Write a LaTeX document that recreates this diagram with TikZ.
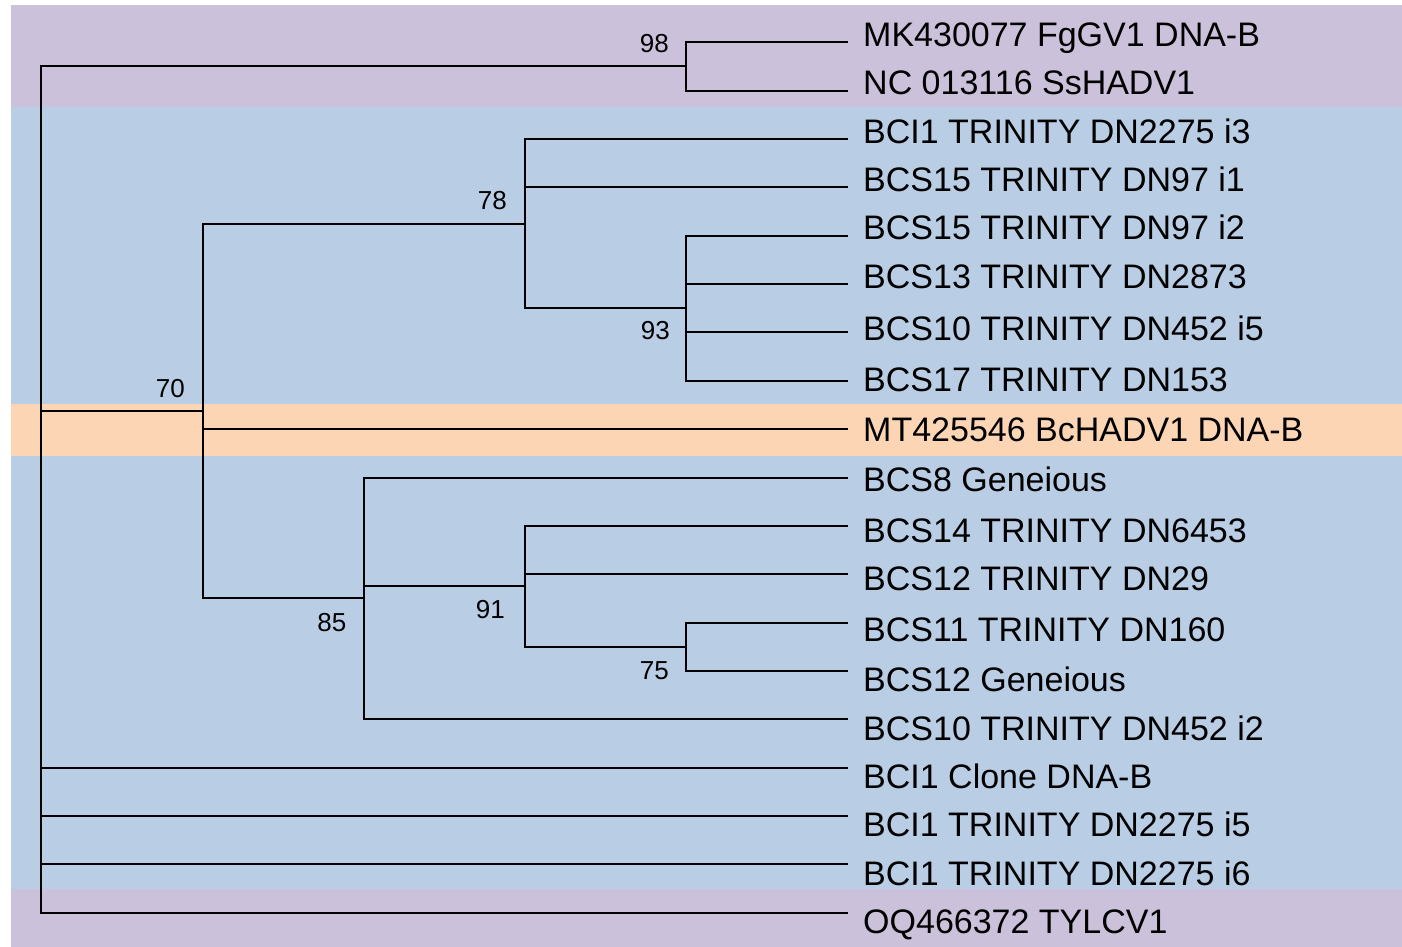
\documentclass[tikz,border=0pt]{standalone}
\usepackage{fontspec}
\setmainfont{Liberation Sans}
\definecolor{bandpurple}{RGB}{203,193,218}
\definecolor{bandblue}{RGB}{185,205,228}
\definecolor{bandorange}{RGB}{252,213,181}
\begin{document}
\begin{tikzpicture}[x=1pt,y=-1pt,
  branch/.style={line width=2pt, line cap=rect, line join=miter},
  leaflabel/.style={anchor=base west, inner sep=0pt, font=\fontsize{34}{40}\selectfont},
  boot/.style={anchor=base east, inner sep=0pt, font=\fontsize{26}{30}\selectfont}]
\useasboundingbox (0,0) rectangle (1402,947);
\fill[white] (0,0) rectangle (1402,947);
% background bands
\fill[bandpurple] (11,5) rectangle (1402,107);
\fill[bandblue] (11,107) rectangle (1402,404);
\fill[bandorange] (11,404) rectangle (1402,456);
\fill[bandblue] (11,456) rectangle (1402,889);
\fill[bandpurple] (11,889) rectangle (1402,947);

% leaf tips
\coordinate (t0) at (847,42.3);
\coordinate (t1) at (847,90.66);
\coordinate (t2) at (847,139.02);
\coordinate (t3) at (847,187.38);
\coordinate (t4) at (847,235.74);
\coordinate (t5) at (847,284.1);
\coordinate (t6) at (847,332.46);
\coordinate (t7) at (847,380.82);
\coordinate (t8) at (847,429.18);
\coordinate (t9) at (847,477.54);
\coordinate (t10) at (847,525.9);
\coordinate (t11) at (847,574.26);
\coordinate (t12) at (847,622.62);
\coordinate (t13) at (847,670.98);
\coordinate (t14) at (847,719.34);
\coordinate (t15) at (847,767.7);
\coordinate (t16) at (847,816.06);
\coordinate (t17) at (847,864.42);
\coordinate (t18) at (847,912.78);

% internal nodes
\coordinate (root) at (41,66.48);
\coordinate (n98) at (686,66.48);
\coordinate (n70) at (203,411.05);
\coordinate (n78) at (525,223.65);
\coordinate (n93) at (686,308.28);
\coordinate (n85) at (364,598.44);
\coordinate (n91) at (525,586.35);
\coordinate (n75) at (686,646.8);

% leaf labels
\node[leaflabel] (l0) at (863,46.7) {MK430077 FgGV1 DNA-B};
\node[leaflabel] (l1) at (863,95) {NC 013116 SsHADV1};
\node[leaflabel] (l2) at (863,143) {BCI1 TRINITY DN2275 i3};
\node[leaflabel] (l3) at (863,191) {BCS15 TRINITY DN97 i1};
\node[leaflabel] (l4) at (863,239) {BCS15 TRINITY DN97 i2};
\node[leaflabel] (l5) at (863,288) {BCS13 TRINITY DN2873};
\node[leaflabel] (l6) at (863,340) {BCS10 TRINITY DN452 i5};
\node[leaflabel] (l7) at (863,391.5) {BCS17 TRINITY DN153};
\node[leaflabel] (l8) at (863,441.5) {MT425546 BcHADV1 DNA-B};
\node[leaflabel] (l9) at (863,491.5) {BCS8 Geneious};
\node[leaflabel] (l10) at (863,542) {BCS14 TRINITY DN6453};
\node[leaflabel] (l11) at (863,590) {BCS12 TRINITY DN29};
\node[leaflabel] (l12) at (863,641) {BCS11 TRINITY DN160};
\node[leaflabel] (l13) at (863,691.5) {BCS12 Geneious};
\node[leaflabel] (l14) at (863,740) {BCS10 TRINITY DN452 i2};
\node[leaflabel] (l15) at (863,788.3) {BCI1 Clone DNA-B};
\node[leaflabel] (l16) at (863,836.7) {BCI1 TRINITY DN2275 i5};
\node[leaflabel] (l17) at (863,885) {BCI1 TRINITY DN2275 i6};
\node[leaflabel] (l18) at (863,933) {OQ466372 TYLCV1};

% branches
\draw[branch] (n98) |- (t0);
\draw[branch] (n98) |- (t1);
\draw[branch] (n93) |- (t4);
\draw[branch] (n93) |- (t5);
\draw[branch] (n93) |- (t6);
\draw[branch] (n93) |- (t7);
\draw[branch] (n78) |- (t2);
\draw[branch] (n78) |- (t3);
\draw[branch] (n78) |- (n93);
\draw[branch] (n75) |- (t12);
\draw[branch] (n75) |- (t13);
\draw[branch] (n91) |- (t10);
\draw[branch] (n91) |- (t11);
\draw[branch] (n91) |- (n75);
\draw[branch] (n85) |- (t9);
\draw[branch] (n85) |- (n91);
\draw[branch] (n85) |- (t14);
\draw[branch] (n70) |- (n78);
\draw[branch] (n70) |- (t8);
\draw[branch] (n70) |- (n85);
\draw[branch] (root) |- (n98);
\draw[branch] (root) |- (n70);
\draw[branch] (root) |- (t15);
\draw[branch] (root) |- (t16);
\draw[branch] (root) |- (t17);
\draw[branch] (root) |- (t18);

% bootstrap values
\node[boot] (b98) at (669,52.8) {98};
\node[boot] (b78) at (507,209) {78};
\node[boot] (b93) at (670,339.5) {93};
\node[boot] (b70) at (185,397) {70};
\node[boot] (b85) at (346.5,631) {85};
\node[boot] (b91) at (505,618) {91};
\node[boot] (b75) at (669,679) {75};
\end{tikzpicture}
\end{document}
